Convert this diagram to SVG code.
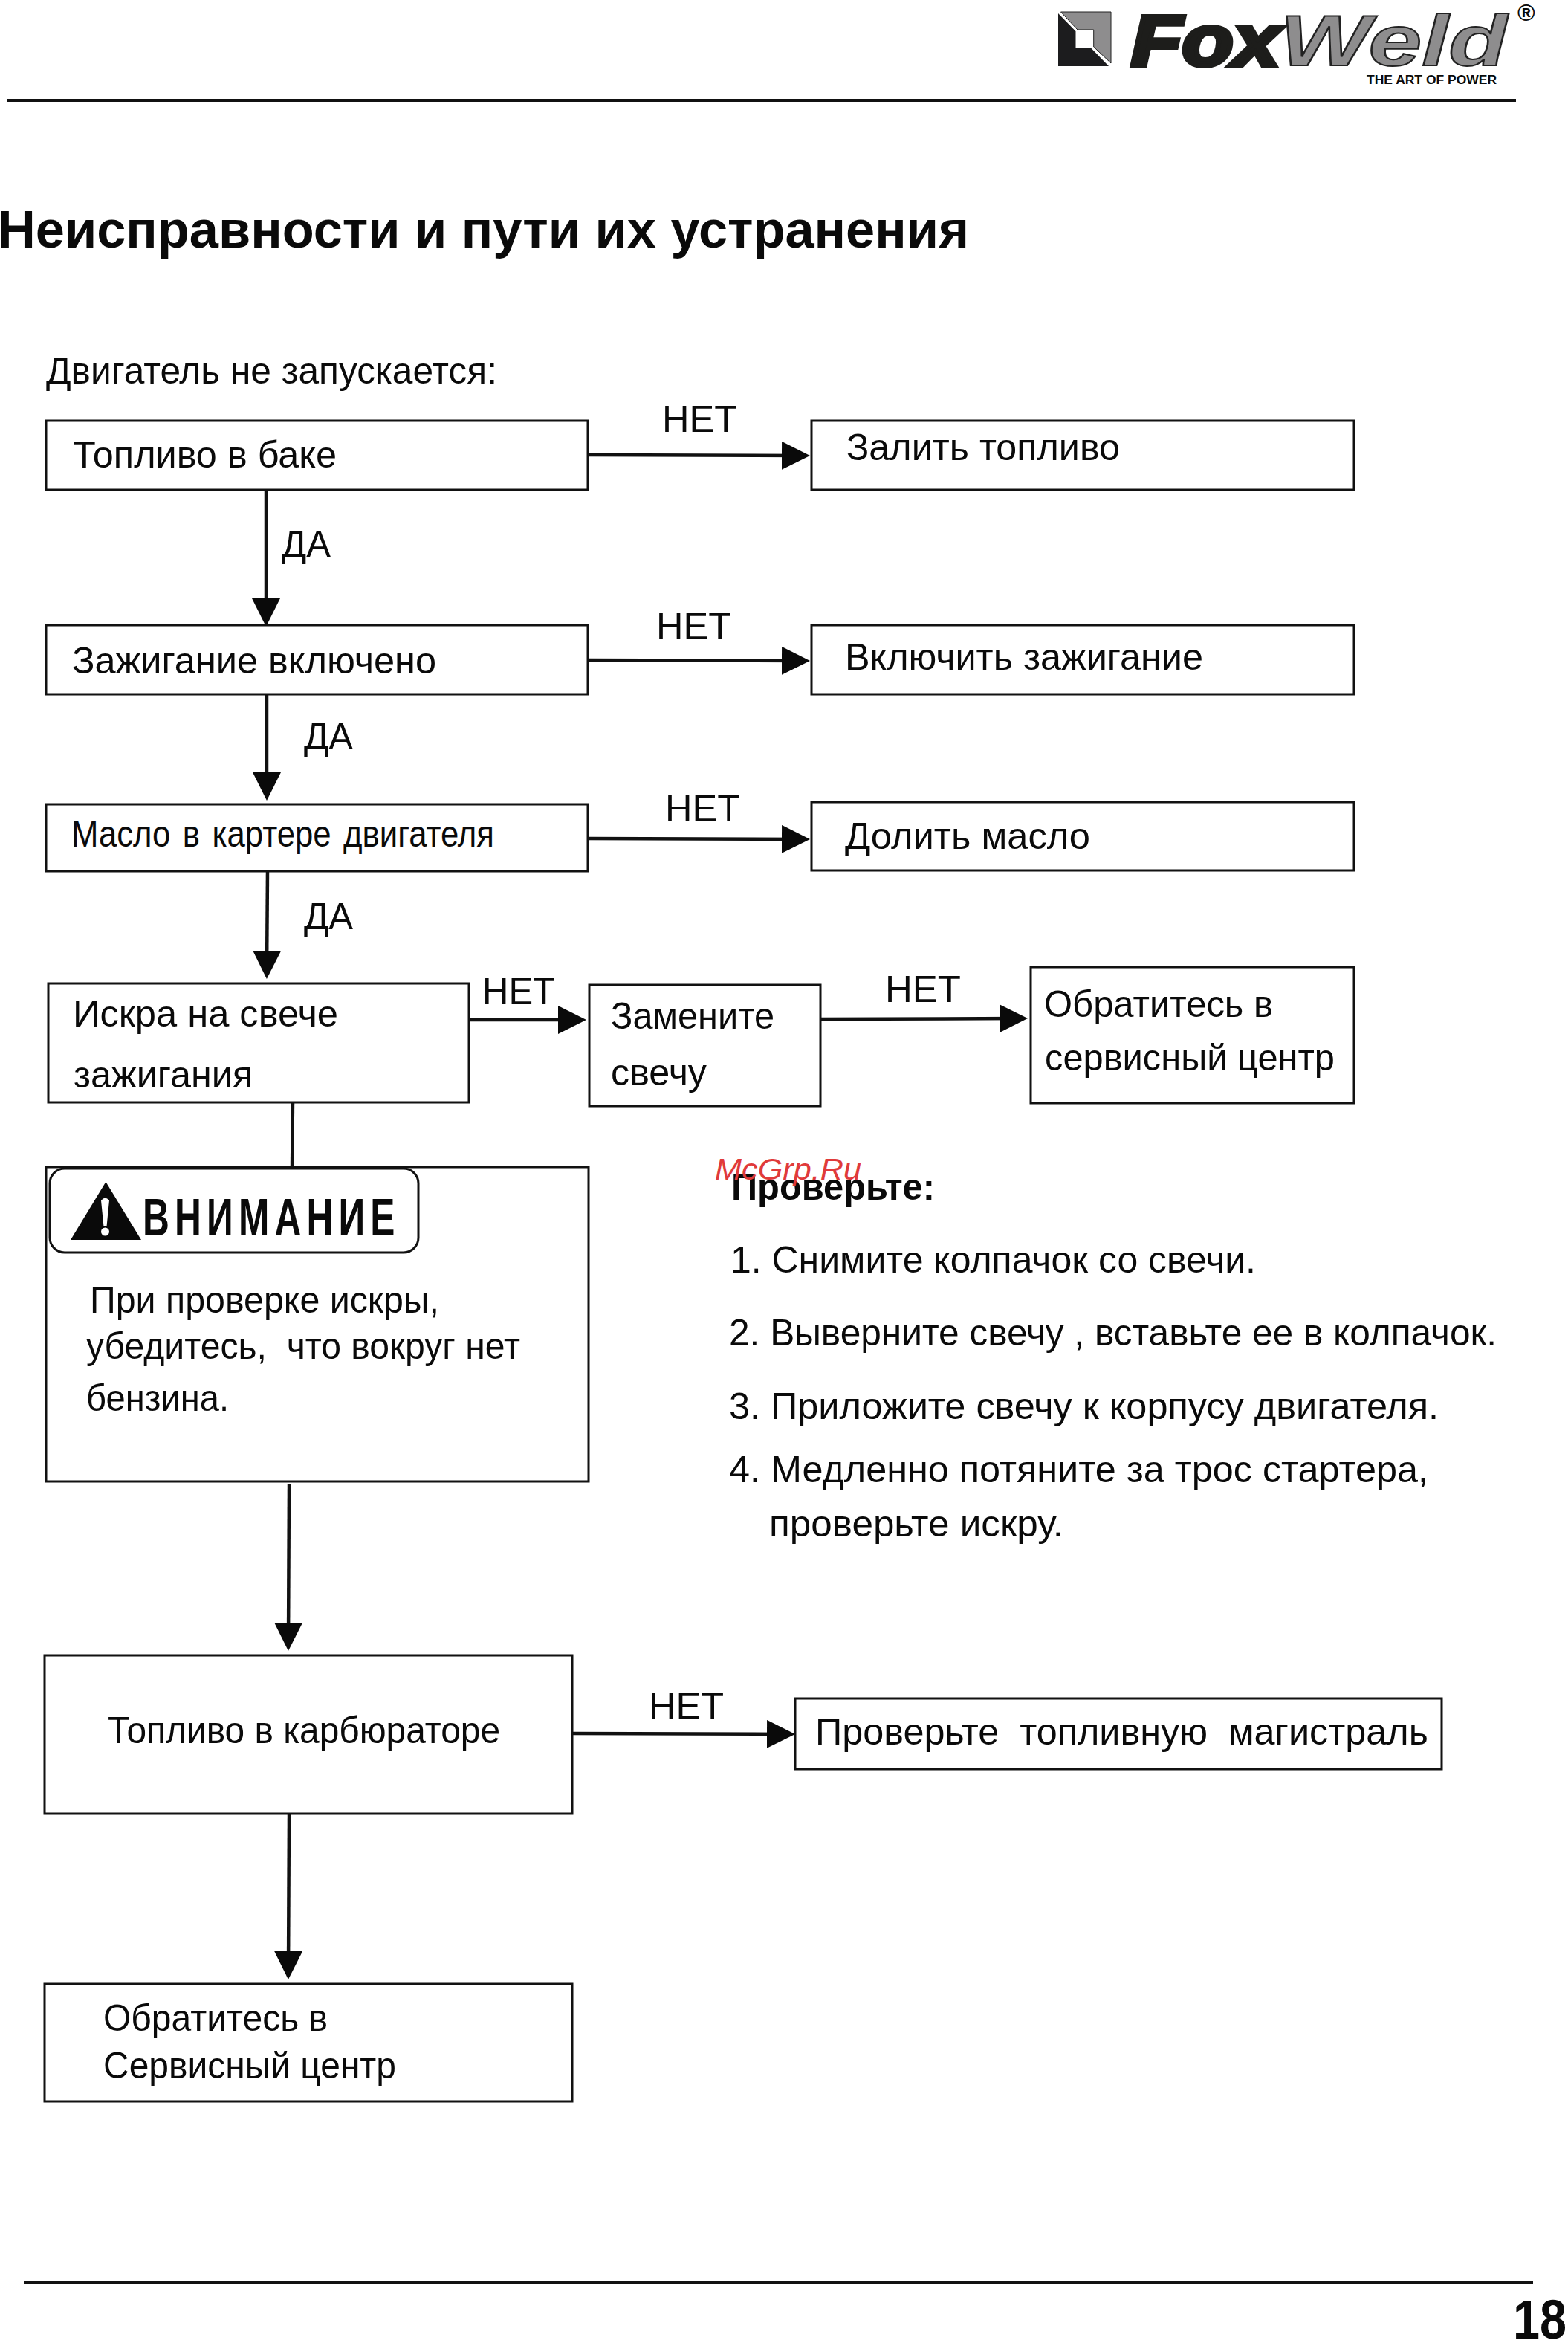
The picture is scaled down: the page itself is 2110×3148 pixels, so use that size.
<svg xmlns="http://www.w3.org/2000/svg" width="2110" height="3148" viewBox="0 0 2110 3148">
<style>
text{font-family:"Liberation Sans",Arial,sans-serif;fill:#0a0a0a;white-space:pre}
.t{font-size:50px}
.b{fill:#fff;stroke:#111;stroke-width:3}
.c{stroke:#111;stroke-width:4.5;fill:none}
.a{marker-end:url(#ah)}
.h{stroke:#111;stroke-width:4;fill:none}
</style>
<defs>
<marker id="ah" markerUnits="userSpaceOnUse" markerWidth="38" markerHeight="38" refX="28" refY="19" orient="auto"><path d="M0 0L38 19L0 38Z" fill="#0a0a0a"/></marker>
</defs>
<rect width="2110" height="3148" fill="#fff"/>
<g id="header">
<path d="M1424 18L1447.500 42V65H1468.500L1492 89H1424Z" fill="#1c1c1e"/>
<path d="M1427.500 16H1495V85L1471.700 63V40H1450Z" fill="#8e8d8e" stroke="#222" stroke-width="1"/>
<text x="1522" y="88" font-size="96" font-weight="700" font-style="italic" textLength="200" lengthAdjust="spacingAndGlyphs" style="fill:#1d1d1b;stroke:#1d1d1b;stroke-width:6">Fox</text>
<text x="1722" y="88" font-size="96" font-weight="700" font-style="italic" textLength="306" lengthAdjust="spacingAndGlyphs" style="fill:#8e8d8e;stroke:#222;stroke-width:2">Weld</text>
<text x="2042" y="28" font-size="32" font-weight="700">®</text>
<text x="1839" y="113" font-size="16" font-weight="700" textLength="175" lengthAdjust="spacingAndGlyphs">THE ART OF POWER</text>
<line class="h" x1="10" y1="135" x2="2040" y2="135"/>
</g>
<text id="title" x="-3" y="333" font-size="71" font-weight="700" textLength="1307" lengthAdjust="spacingAndGlyphs">Неисправности и пути их устранения</text>
<text id="intro" class="t" x="62" y="516" textLength="607" lengthAdjust="spacingAndGlyphs">Двигатель не запускается:</text>
<g id="connectors">
<line class="c a" x1="791" y1="612" x2="1080" y2="613"/>
<line class="c a" x1="358" y1="659" x2="358" y2="833"/>
<line class="c a" x1="791" y1="888" x2="1080" y2="889"/>
<line class="c a" x1="359" y1="934" x2="359" y2="1067"/>
<line class="c a" x1="791" y1="1128" x2="1080" y2="1129"/>
<line class="c a" x1="360" y1="1172" x2="359" y2="1307"/>
<line class="c a" x1="631" y1="1372" x2="779" y2="1372"/>
<line class="c a" x1="1104" y1="1371" x2="1373" y2="1370"/>
<line class="c" x1="394" y1="1484" x2="393" y2="1570"/>
<line class="c a" x1="389" y1="1997" x2="388" y2="2211"/>
<line class="c a" x1="770" y1="2332" x2="1060" y2="2333"/>
<line class="c a" x1="389" y1="2440" x2="388" y2="2653"/>
</g>
<g id="n1"><rect class="b" x="62" y="566" width="729" height="93"/><text class="t" x="98" y="629" textLength="355" lengthAdjust="spacingAndGlyphs">Топливо в баке</text></g>
<g id="n2"><rect class="b" x="1092" y="566" width="730" height="93"/><text class="t" x="1139" y="619" textLength="368" lengthAdjust="spacingAndGlyphs">Залить топливо</text></g>
<g id="n3"><rect class="b" x="62" y="841" width="729" height="93"/><text class="t" x="97" y="906" textLength="490" lengthAdjust="spacingAndGlyphs">Зажигание включено</text></g>
<g id="n4"><rect class="b" x="1092" y="841" width="730" height="93"/><text class="t" x="1137" y="901" textLength="482" lengthAdjust="spacingAndGlyphs">Включить зажигание</text></g>
<g id="n5"><rect class="b" x="62" y="1082" width="729" height="90"/><text class="t" x="96" y="1139" word-spacing="5" textLength="569" lengthAdjust="spacingAndGlyphs">Масло в картере двигателя</text></g>
<g id="n6"><rect class="b" x="1092" y="1079" width="730" height="92"/><text class="t" x="1137" y="1142" textLength="330" lengthAdjust="spacingAndGlyphs">Долить масло</text></g>
<g id="n7"><rect class="b" x="65" y="1323" width="566" height="160"/><text class="t" x="98" y="1381" textLength="357" lengthAdjust="spacingAndGlyphs">Искра на свече</text><text class="t" x="99" y="1463" textLength="241" lengthAdjust="spacingAndGlyphs">зажигания</text></g>
<g id="n8"><rect class="b" x="793" y="1325" width="311" height="163"/><text class="t" x="822" y="1384" textLength="220" lengthAdjust="spacingAndGlyphs">Замените</text><text class="t" x="822" y="1460" textLength="129" lengthAdjust="spacingAndGlyphs">свечу</text></g>
<g id="n9"><rect class="b" x="1387" y="1301" width="435" height="183"/><text class="t" x="1405" y="1368" textLength="308" lengthAdjust="spacingAndGlyphs">Обратитесь в</text><text class="t" x="1406" y="1440" textLength="390" lengthAdjust="spacingAndGlyphs">сервисный центр</text></g>
<g id="warning">
<rect class="b" x="62" y="1570" width="730" height="423"/>
<rect x="67" y="1572" width="496" height="113" rx="20" fill="#fff" stroke="#111" stroke-width="3"/>
<path d="M142.400 1590L190 1668H95Z" fill="#0a0a0a"/>
<path d="M136 1615Q141.500 1608 147 1615L143.500 1650H139.500Z" fill="#fff"/>
<circle cx="141.500" cy="1657" r="5.500" fill="#fff"/>
<text transform="translate(192 1662) scale(.7 1)" font-size="71" font-weight="700" letter-spacing="10.200">ВНИМАНИЕ</text>
<text class="t" x="121" y="1766" textLength="470" lengthAdjust="spacingAndGlyphs">При проверке искры,</text>
<text class="t" x="116" y="1828" textLength="584" lengthAdjust="spacingAndGlyphs">убедитесь,  что вокруг нет</text>
<text class="t" x="116" y="1898" textLength="192" lengthAdjust="spacingAndGlyphs">бензина.</text>
</g>
<g id="check">
<text class="t" x="984" y="1614" font-weight="700" textLength="274" lengthAdjust="spacingAndGlyphs">Проверьте:</text>
<text class="t" x="983" y="1712" textLength="707" lengthAdjust="spacingAndGlyphs">1. Снимите колпачок со свечи.</text>
<text class="t" x="981" y="1810" textLength="1033" lengthAdjust="spacingAndGlyphs">2. Выверните свечу , вставьте ее в колпачок.</text>
<text class="t" x="981" y="1909" textLength="955" lengthAdjust="spacingAndGlyphs">3. Приложите свечу к корпусу двигателя.</text>
<text class="t" x="981" y="1994" textLength="941" lengthAdjust="spacingAndGlyphs">4. Медленно потяните за трос стартера,</text>
<text class="t" x="1035" y="2067" textLength="396" lengthAdjust="spacingAndGlyphs">проверьте искру.</text>
</g>
<g id="n10"><rect class="b" x="60" y="2227" width="710" height="213"/><text class="t" x="145" y="2345" textLength="528" lengthAdjust="spacingAndGlyphs">Топливо в карбюраторе</text></g>
<g id="n11"><rect class="b" x="1070" y="2285" width="870" height="95"/><text class="t" x="1097" y="2347" textLength="825" lengthAdjust="spacingAndGlyphs">Проверьте  топливную  магистраль</text></g>
<g id="n12"><rect class="b" x="60" y="2669" width="710" height="158"/><text class="t" x="139" y="2732" textLength="302" lengthAdjust="spacingAndGlyphs">Обратитесь в</text><text class="t" x="139" y="2796" textLength="394" lengthAdjust="spacingAndGlyphs">Сервисный центр</text></g>
<g id="labels">
<text class="t" x="891" y="581" textLength="101" lengthAdjust="spacingAndGlyphs">НЕТ</text>
<text class="t" x="883" y="860" textLength="101" lengthAdjust="spacingAndGlyphs">НЕТ</text>
<text class="t" x="895" y="1105" textLength="101" lengthAdjust="spacingAndGlyphs">НЕТ</text>
<text class="t" x="649" y="1351" textLength="98" lengthAdjust="spacingAndGlyphs">НЕТ</text>
<text class="t" x="1191" y="1348" textLength="102" lengthAdjust="spacingAndGlyphs">НЕТ</text>
<text class="t" x="873" y="2312" textLength="101" lengthAdjust="spacingAndGlyphs">НЕТ</text>
<text class="t" x="379" y="749" textLength="66" lengthAdjust="spacingAndGlyphs">ДА</text>
<text class="t" x="409" y="1008" textLength="66" lengthAdjust="spacingAndGlyphs">ДА</text>
<text class="t" x="409" y="1250" textLength="66" lengthAdjust="spacingAndGlyphs">ДА</text>
</g>
<text id="watermark" x="962" y="1587" font-size="40" font-style="italic" textLength="197" lengthAdjust="spacingAndGlyphs" style="fill:#e03a3a">McGrp.Ru</text>
<g id="footer">
<line class="h" x1="32" y1="3071" x2="2063" y2="3071"/>
<text x="2036" y="3146" font-size="74" font-weight="700" textLength="72" lengthAdjust="spacingAndGlyphs">18</text>
</g>
</svg>
